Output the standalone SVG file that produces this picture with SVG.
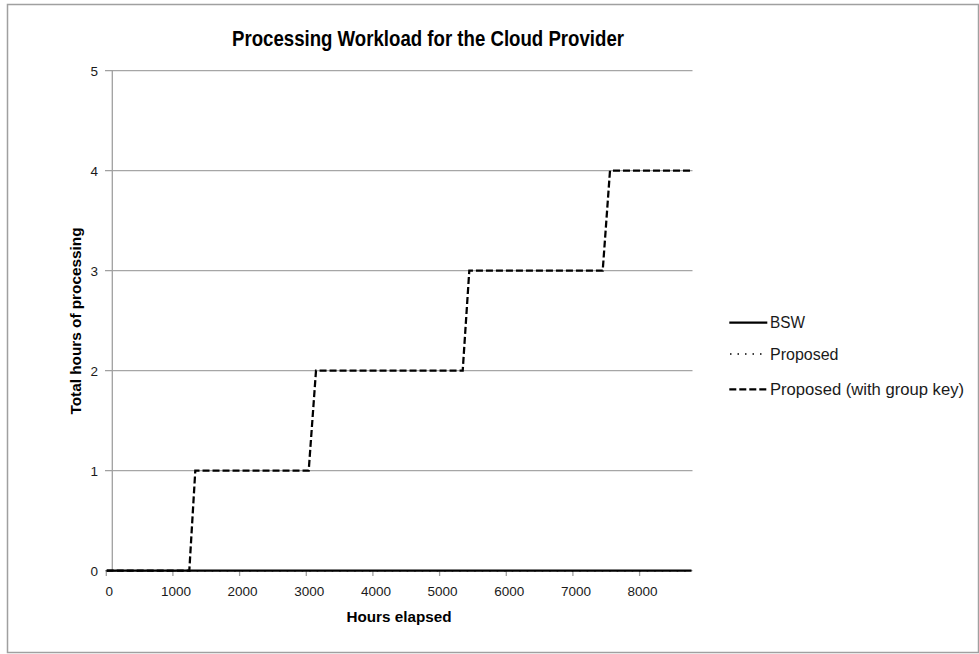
<svg xmlns="http://www.w3.org/2000/svg" width="979" height="654" viewBox="0 0 979 654">
<style>
.grid{stroke:#a6a6a6;stroke-width:1.3;fill:none}
.axis{stroke:#a0a0a0;stroke-width:1.3;fill:none}
.tick{font-family:"Liberation Sans",Arial,sans-serif;font-size:13.5px;fill:#1a1a1a}
.lbl{font-family:"Liberation Sans",Arial,sans-serif;font-size:16px;fill:#1a1a1a}
.ttl{font-family:"Liberation Sans",Arial,sans-serif;font-weight:bold;fill:#000}
.bsw{stroke:#000;stroke-width:2.25;fill:none}
.prop{stroke:#000;stroke-width:1.5;fill:none;stroke-dasharray:1.5 6}
.grp{stroke:#000;stroke-width:2.25;fill:none;stroke-dasharray:7 3}
</style>
<rect x="0" y="0" width="979" height="654" fill="#fff"/>
<rect x="7.5" y="4.5" width="971" height="648" fill="#fff" stroke="#a0a0a0" stroke-width="1.5"/>
<text id="title" class="ttl" x="428" y="46" font-size="21.5" text-anchor="middle" textLength="392" lengthAdjust="spacingAndGlyphs">Processing Workload for the Cloud Provider</text>
<g id="gridlines">
<line class="grid" x1="112.3" y1="70.7" x2="692.5" y2="70.7"/>
<line class="grid" x1="112.3" y1="170.7" x2="692.5" y2="170.7"/>
<line class="grid" x1="112.3" y1="270.7" x2="692.5" y2="270.7"/>
<line class="grid" x1="112.3" y1="370.7" x2="692.5" y2="370.7"/>
<line class="grid" x1="112.3" y1="470.7" x2="692.5" y2="470.7"/>
</g>
<g id="axes">
<line class="axis" x1="112.3" y1="70" x2="112.3" y2="571"/>
<line class="axis" x1="105" y1="570.7" x2="692.5" y2="570.7"/>
<path class="axis" d="M105 70.7H112.3M105 170.7H112.3M105 270.7H112.3M105 370.7H112.3M105 470.7H112.3M105 570.7H112.3"/>
<path class="axis" d="M106.3 570.7V576M172.9 570.7V576M239.6 570.7V576M306.3 570.7V576M372.9 570.7V576M439.6 570.7V576M506.3 570.7V576M572.9 570.7V576M639.6 570.7V576"/>
</g>
<g id="y-labels" class="tick" text-anchor="end">
<text x="98" y="75.5">5</text>
<text x="98" y="175.5">4</text>
<text x="98" y="275.5">3</text>
<text x="98" y="375.5">2</text>
<text x="98" y="475.5">1</text>
<text x="98" y="575.5">0</text>
</g>
<g id="x-labels" class="tick" text-anchor="middle">
<text x="109.3" y="595.5">0</text>
<text x="175.9" y="595.5">1000</text>
<text x="242.6" y="595.5">2000</text>
<text x="309.3" y="595.5">3000</text>
<text x="375.9" y="595.5">4000</text>
<text x="442.6" y="595.5">5000</text>
<text x="509.3" y="595.5">6000</text>
<text x="575.9" y="595.5">7000</text>
<text x="642.6" y="595.5">8000</text>
</g>
<text id="x-title" class="ttl" x="399" y="621.5" font-size="15" text-anchor="middle" textLength="105" lengthAdjust="spacingAndGlyphs">Hours elapsed</text>
<text id="y-title" class="ttl" font-size="15" text-anchor="middle" transform="translate(81,321) rotate(-90)" textLength="187" lengthAdjust="spacingAndGlyphs">Total hours of processing</text>
<g id="connectors">
<g id="series-bsw"><path class="bsw" d="M106.7 570.7H691.5"/></g>
<g id="series-proposed"><path class="prop" d="M106.7 570.7H691.5"/></g>
<g id="series-group-key"><path class="grp" d="M106.7 570.7H189.3L195.3 470.7H308.7L316 370.7H462.7L469.3 270.7H602.7L610 170.7H691"/></g>
</g>
<g id="legend">
<g id="legend-bsw"><line class="bsw" x1="729.3" y1="322.7" x2="767.3" y2="322.7"/><text class="lbl" x="770" y="328.4" textLength="35" lengthAdjust="spacingAndGlyphs">BSW</text></g>
<g id="legend-proposed"><line class="prop" x1="730" y1="354" x2="767.3" y2="354"/><text class="lbl" x="770" y="359.7">Proposed</text></g>
<g id="legend-group-key"><line class="grp" x1="729.3" y1="389.3" x2="767.3" y2="389.3"/><text class="lbl" x="770" y="395" textLength="194" lengthAdjust="spacingAndGlyphs">Proposed (with group key)</text></g>
</g>
</svg>
